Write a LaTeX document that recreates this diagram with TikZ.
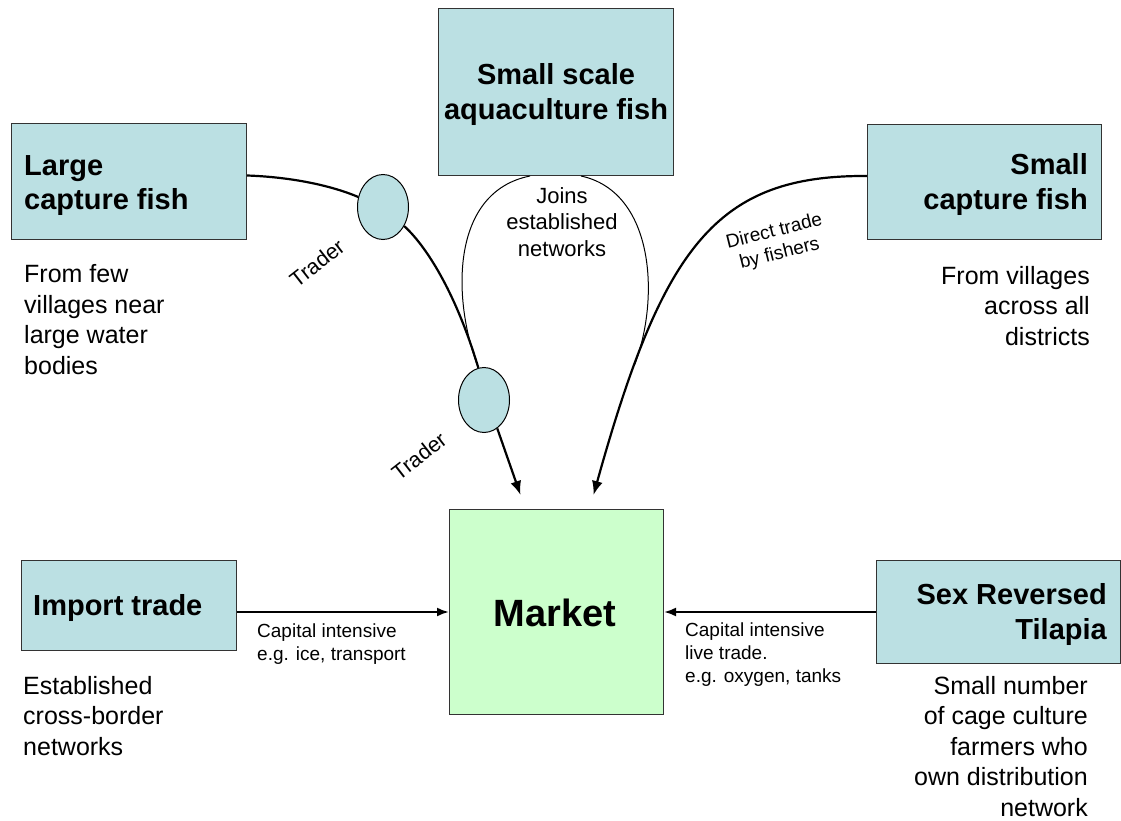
\documentclass[tikz,border=0pt]{standalone}
\usepackage{fontspec}
\setmainfont{Liberation Sans}
\usetikzlibrary{arrows.meta,shapes.geometric}
\definecolor{fishblue}{RGB}{187,224,227}
\definecolor{marketgreen}{RGB}{204,255,204}
\newcommand{\fsz}[2]{\fontsize{#1}{#2}\selectfont}

\begin{document}
\begin{tikzpicture}[x=1pt,y=-1pt,
	box/.style={draw=black!80,line width=1pt,fill=fishblue,inner sep=0pt,anchor=north west},
	trader/.style={ellipse,draw,line width=1pt,fill=fishblue,minimum width=51pt,minimum height=65pt,inner sep=0pt},
	title/.style={font=\bfseries\fsz{29}{35},inner sep=0pt},
	note/.style={font=\fsz{25}{30.5},inner sep=0pt},
	small/.style={font=\fsz{19}{22.7},inner sep=0pt},
	flow/.style={line width=2.2pt,-{Latex[length=14pt,width=11pt]}}]
	\useasboundingbox (0,0) rectangle (1121,821);
	% boxes
	\node[box,minimum width=235pt,minimum height=116pt] (large) at (11,123) {};
	\node[box,minimum width=235pt,minimum height=167pt] (aqua) at (438,8) {};
	\node[box,minimum width=234pt,minimum height=115pt] (smallcap) at (867,124) {};
	\node[box,minimum width=215pt,minimum height=90pt] (imp) at (21,560) {};
	\node[box,fill=marketgreen,minimum width=214pt,minimum height=205pt] (market) at (449,509) {};
	\node[box,minimum width=244pt,minimum height=103pt] (tilapia) at (876,560) {};
	% box texts (base = last line)
	\node[title,align=left,anchor=base west] (largeT) at (24,210) {Large\\capture fish};
	\node[title,align=center,anchor=base] (aquaT) at (556,120) {Small scale\\aquaculture fish};
	\node[title,align=right,anchor=base east] (smallT) at (1088,209) {Small\\capture fish};
	\node[title,anchor=base west] (impT) at (33,615) {Import trade};
	\node[title,align=right,anchor=base east] (tilT) at (1107,639) {Sex Reversed\\Tilapia};
	\node[font=\bfseries\fsz{38}{46},inner sep=0pt,anchor=base] (marketT) at (555,626) {Market};
	% traders
	\node[trader] (t1) at (383,207) {};
	\node[trader] (t2) at (484,400) {};
	% flows
	\draw[line width=2.2pt] ([yshift=6pt]large.east) .. controls (290,177) and (330,185) .. (t1.158);
	\draw[line width=2.2pt] (t1.-42) .. controls (425,245) and (455,290) .. (t2.100);
	\draw[flow] (t2.-65) -- ([xshift=-36pt,yshift=14pt]market.north);
	\draw[flow] ([yshift=6pt]smallcap.west) .. controls (717,175) and (663,245) .. ([xshift=37pt,yshift=14pt]market.north) coordinate[pos=0.8] (join);
	\draw[line width=1pt] ([xshift=-26pt]aqua.south) .. controls (450,192) and (452,300) .. (t2.100);
	\draw[line width=1pt] ([xshift=25pt]aqua.south) .. controls (655,192) and (660,300) .. (join);
	\draw[flow,-{Latex[length=12pt,width=9pt]}] (imp.east |- market.west) -- (market.west);
	\draw[flow,-{Latex[length=12pt,width=9pt]}] (tilapia.west) -- (market.east);
	% labels
	\node[font=\fsz{21.5}{25},inner sep=0pt,rotate=38] (trader1) at (317,263) {Trader};
	\node[font=\fsz{21.5}{25},inner sep=0pt,rotate=38] (trader2) at (419,456) {Trader};
	\node[small,align=center,rotate=14] (direct) at (777,243) {Direct trade\\by fishers};
	\node[font=\fsz{22}{26.5},inner sep=0pt,align=center,anchor=base] (joins) at (562,256) {Joins\\established\\networks};
	\node[small,align=left,anchor=base west] (cap1) at (257,660) {Capital intensive\\e.g. ice, transport};
	\node[small,align=left,anchor=base west] (cap2) at (685,682) {Capital intensive\\live trade.\\e.g. oxygen, tanks};
	% notes
	\node[note,align=left,anchor=base west] (largeN) at (24,374) {From few\\villages near\\large water\\bodies};
	\node[note,align=right,anchor=base east] (smallN) at (1090,345) {From villages\\across all\\districts};
	\node[note,align=left,anchor=base west] (impN) at (23,755) {Established\\cross-border\\networks};
	\node[note,align=right,anchor=base east] (tilN) at (1088,816) {Small number\\of cage culture\\farmers who\\own distribution\\network};
\end{tikzpicture}
\end{document}
